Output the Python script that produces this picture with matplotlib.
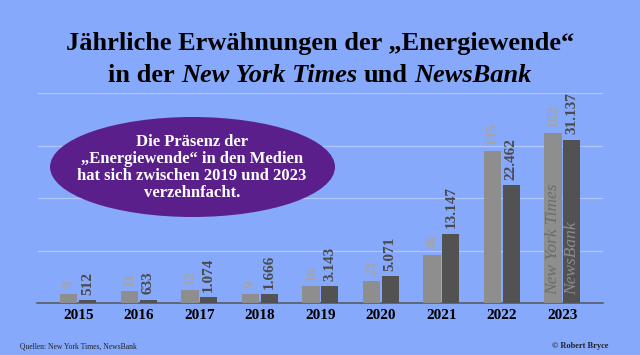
import matplotlib
matplotlib.use("Agg")
import matplotlib.pyplot as plt
from matplotlib.patches import Ellipse

years = ["2015", "2016", "2017", "2018", "2019", "2020", "2021", "2022", "2023"]
nyt = [9, 11, 12, 9, 16, 21, 46, 145, 162]
newsbank = [512, 633, 1074, 1666, 3143, 5071, 13147, 22462, 31137]

BG = "#87A9FB"
GRAY = "#8E8E8E"
DARK = "#525252"
SERIF = "Liberation Serif"

W, H = 640, 355
fig = plt.figure(figsize=(6.4, 3.55), dpi=100, facecolor=BG)

def fx(px):
    return px / W

def fy(py):
    return 1 - py / H

ax = fig.add_axes([fx(37.5), fy(303), fx(603) - fx(37.5), (303 - 93) / H])
ax.set_facecolor("none")
ax2 = ax.twinx()
ax2.set_facecolor("none")

x = list(range(len(years)))
off = 0.155
bw = 0.285

ax.bar([i - off for i in x], nyt, width=bw, color=GRAY, zorder=3)
ax2.bar([i + off for i in x], newsbank, width=bw, color=DARK, zorder=3)

ax.set_xlim(-0.673, 8.67)
ax.set_ylim(0, 200)
ax2.set_ylim(0, 40000)

ax.set_yticks([50, 100, 150, 200])
ax.yaxis.grid(True, color="#B2C8FB", linewidth=0.9)
ax.set_axisbelow(True)
ax.tick_params(axis="y", length=0, labelleft=False)
ax2.set_yticks([])
for a in (ax, ax2):
    for s in ("top", "left", "right"):
        a.spines[s].set_visible(False)
ax2.spines["bottom"].set_visible(False)
ax.spines["bottom"].set_color("#555555")
ax.spines["bottom"].set_linewidth(1.1)

ax.set_xticks(x)
ax.set_xticklabels(years, fontfamily=SERIF, fontweight="bold", fontsize=11, color="black")
ax.tick_params(axis="x", length=0, pad=4)

for i, v in enumerate(nyt):
    ax.annotate(str(v), (i - off, v), xytext=(0, 4), textcoords="offset points",
                rotation=90, ha="center", va="bottom", color="#A4A4A4",
                fontsize=11, fontweight="semibold", fontfamily=SERIF)
for i, v in enumerate(newsbank):
    lab = f"{v:,}".replace(",", ".")
    ax2.annotate(lab, (i + off, v), xytext=(0, 4), textcoords="offset points",
                 rotation=90, ha="center", va="bottom", color="#4A4A4A",
                 fontsize=11, fontweight="semibold", fontfamily=SERIF)

ax.annotate("New York Times", (8 - off, 0), xytext=(0, 6), textcoords="offset points",
            rotation=90, ha="center", va="bottom", color="#6C6C6C",
            fontsize=12.5, fontstyle="italic", fontfamily=SERIF, zorder=5)
ax2.annotate("NewsBank", (8 + off, 0), xytext=(0, 6), textcoords="offset points",
             rotation=90, ha="center", va="bottom", color="#8C8C8C",
             fontsize=12.5, fontstyle="italic", fontfamily=SERIF, zorder=5)

# Ellipse callout
ell = Ellipse((1.925, (H - 167) / 100), 2.85, 1.0, transform=fig.dpi_scale_trans,
              facecolor="#5B1F8C", edgecolor="none", zorder=10)
fig.add_artist(ell)
fig.text(fx(192), fy(167.5),
         "Die Präsenz der\n„Energiewende“ in den Medien\nhat sich zwischen 2019 und 2023\nverzehnfacht.",
         ha="center", va="center", color="white", fontsize=12, fontweight="bold",
         fontfamily=SERIF, linespacing=1.08, zorder=11)

# Title
TS = 19
fig.text(0.5, fy(50), "Jährliche Erwähnungen der „Energiewende“", ha="center", va="baseline",
         fontsize=TS, fontweight="bold", fontfamily=SERIF, color="black")

renderer = fig.canvas.get_renderer()
pieces = [("in der", "normal"), ("New York Times", "italic"), ("und", "normal"), ("NewsBank", "italic")]

def width_of(s, style):
    t = fig.text(0, 0, s, fontsize=TS, fontweight="bold", fontstyle=style, fontfamily=SERIF)
    w = t.get_window_extent(renderer).width
    t.remove()
    return w

space = width_of("x x", "normal") - width_of("xx", "normal")
widths = [width_of(s, st) for s, st in pieces]
total = sum(widths) + space * (len(pieces) - 1)
cur = W / 2 - total / 2
for (s, st), w in zip(pieces, widths):
    fig.text(fx(cur), fy(82), s, ha="left", va="baseline", fontsize=TS, fontweight="bold",
             fontstyle=st, fontfamily=SERIF, color="black")
    cur += w + space

# Footer
fig.text(fx(20), fy(346), "Quellen: New York Times, NewsBank", ha="left", va="center",
         fontsize=5.5, fontfamily=SERIF, color="#222222")
fig.text(fx(608), fy(346), "© Robert Bryce", ha="right", va="center",
         fontsize=6, fontweight="bold", fontfamily=SERIF, color="#222222")

fig.savefig("out.png", dpi=100, facecolor=BG)
